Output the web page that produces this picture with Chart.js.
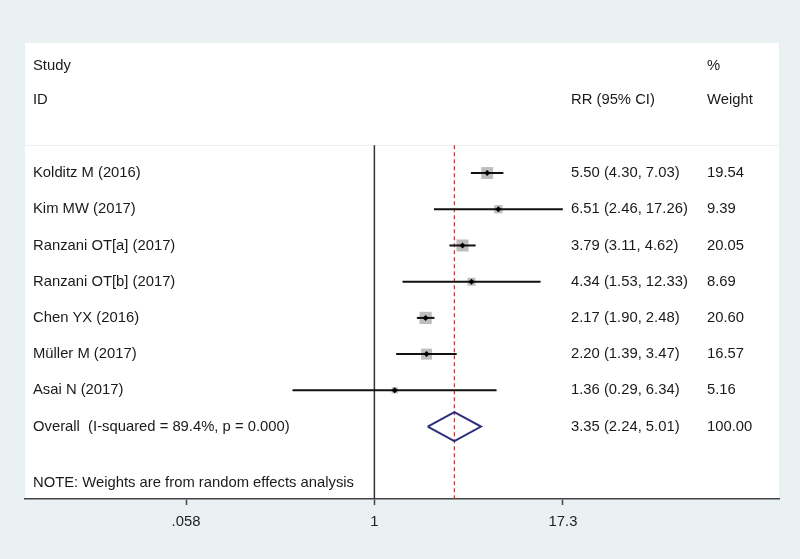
<!DOCTYPE html>
<html>
<head>
<meta charset="utf-8">
<script src="https://cdn.jsdelivr.net/npm/chart.js@4"></script>
<style>
  html, body { margin: 0; padding: 0; background: #eaf1f3; }
  #wrap { width: 800px; height: 559px; }
</style>
</head>
<body>
<div id="wrap"><canvas id="c" width="800" height="559"></canvas></div>
<script>
// ---- data ----
const studies = ['Kolditz M (2016)', 'Kim MW (2017)', 'Ranzani OT[a] (2017)', 'Ranzani OT[b] (2017)', 'Chen YX (2016)', 'Müller M (2017)', 'Asai N (2017)'];
const rr      = [5.50, 6.51, 3.79, 4.34, 2.17, 2.20, 1.36];
const lower   = [4.30, 2.46, 3.11, 1.53, 1.90, 1.39, 0.29];
const upper   = [7.03, 17.26, 4.62, 12.33, 2.48, 3.47, 6.34];
const weights = [19.54, 9.39, 20.05, 8.69, 20.60, 16.57, 5.16];
const overallLabel = 'Overall  (I-squared = 89.4%, p = 0.000)';
const overallEst = [3.35, 2.24, 5.01];   // RR, lower, upper
const overallWeight = 100.00;
const noteText = 'NOTE: Weights are from random effects analysis';
const xTickValues = [0.058, 1, 17.3];
const xTickLabels = ['.058', '1', '17.3'];

// ---- layout constants (rows on the y scale) ----
const Y_MIN = -3.59, Y_MAX = 9.0;
const ROW_HEAD1 = -2.96, ROW_HEAD2 = -2.02, ROW_TOPLINE = -0.77, ROW_OVERALL = 7, ROW_NOTE = 8.56;
const X_MIN = 0.005088, X_MAX = 453.0;
const FONT = '14.8px "Liberation Sans", Arial, sans-serif';
const TXT = '#1a1a1a';

const fmt = v => v.toFixed(2);

const datasets = [];
// central markers
datasets.push({
  data: rr.map((v, i) => ({x: v, y: i})),
  pointStyle: 'rectRot', pointRadius: 3, backgroundColor: '#000', borderWidth: 0, order: 0
});
// CI lines
rr.forEach((v, i) => {
  datasets.push({
    data: [{x: lower[i], y: i}, {x: upper[i], y: i}],
    showLine: true, borderColor: '#111', borderWidth: 2, pointRadius: 0, order: 1
  });
});
// weight boxes
datasets.push({
  data: rr.map((v, i) => ({x: v, y: i})),
  pointStyle: 'rect', pointRadius: weights.map(w => 1.9 * Math.sqrt(w)),
  backgroundColor: '#bdbdbd', borderWidth: 0, order: 2
});
// overall diamond
datasets.push({
  data: [
    {x: overallEst[1], y: ROW_OVERALL},
    {x: overallEst[0], y: ROW_OVERALL - 0.4},
    {x: overallEst[2], y: ROW_OVERALL},
    {x: overallEst[0], y: ROW_OVERALL + 0.4},
    {x: overallEst[1], y: ROW_OVERALL}
  ],
  showLine: true, borderColor: '#2d2f7e', borderWidth: 2, pointRadius: 0, order: 3, borderJoinStyle: 'miter'
});
// dashed overall line
datasets.push({
  data: [{x: overallEst[0], y: ROW_TOPLINE}, {x: overallEst[0], y: Y_MAX}],
  showLine: true, borderColor: '#b23a3a', borderWidth: 1.2, borderDash: [4, 3], pointRadius: 0, order: 4
});
// null line at 1
datasets.push({
  data: [{x: 1, y: ROW_TOPLINE}, {x: 1, y: Y_MAX}],
  showLine: true, borderColor: '#333', borderWidth: 1.5, pointRadius: 0, order: 5
});

const bgPlugin = {
  id: 'bg',
  beforeDraw(chart) {
    const {ctx, chartArea: a, scales: {y}} = chart;
    ctx.save();
    ctx.fillStyle = '#eaf1f3';
    ctx.fillRect(0, 0, chart.width, chart.height);
    ctx.fillStyle = '#ffffff';
    ctx.fillRect(a.left, a.top, a.right - a.left, a.bottom - a.top);
    const yy = Math.round(y.getPixelForValue(ROW_TOPLINE)) + 0.5;
    ctx.strokeStyle = '#efefef';
    ctx.lineWidth = 1;
    ctx.beginPath(); ctx.moveTo(a.left, yy); ctx.lineTo(a.right, yy); ctx.stroke();
    ctx.restore();
  }
};

const textPlugin = {
  id: 'texts',
  afterDatasetsDraw(chart) {
    const {ctx, scales: {y}} = chart;
    ctx.save();
    ctx.font = FONT;
    ctx.fillStyle = TXT;
    ctx.textBaseline = 'middle';
    ctx.textAlign = 'left';
    const colL = 33, colRR = 571, colW = 707;
    ctx.fillText('Study', colL, y.getPixelForValue(ROW_HEAD1));
    ctx.fillText('%', colW, y.getPixelForValue(ROW_HEAD1));
    ctx.fillText('ID', colL, y.getPixelForValue(ROW_HEAD2));
    ctx.fillText('RR (95% CI)', colRR, y.getPixelForValue(ROW_HEAD2));
    ctx.fillText('Weight', colW, y.getPixelForValue(ROW_HEAD2));
    studies.forEach((s, i) => {
      const py = y.getPixelForValue(i);
      ctx.fillText(s, colL, py);
      ctx.fillText(`${fmt(rr[i])} (${fmt(lower[i])}, ${fmt(upper[i])})`, colRR, py);
      ctx.fillText(fmt(weights[i]), colW, py);
    });
    const po = y.getPixelForValue(ROW_OVERALL);
    ctx.fillText(overallLabel, colL, po);
    ctx.fillText(`${fmt(overallEst[0])} (${fmt(overallEst[1])}, ${fmt(overallEst[2])})`, colRR, po);
    ctx.fillText(fmt(overallWeight), colW, po);
    ctx.fillText(noteText, colL, y.getPixelForValue(ROW_NOTE));
    ctx.restore();
  }
};

new Chart(document.getElementById('c'), {
  type: 'scatter',
  data: { datasets },
  options: {
    responsive: false,
    animation: false,
    events: [],
    layout: { padding: { left: 25, right: 21, top: 43, bottom: 0 } },
    plugins: { legend: { display: false }, tooltip: { enabled: false } },
    scales: {
      x: {
        type: 'logarithmic',
        min: X_MIN, max: X_MAX,
        afterBuildTicks(scale) { scale.ticks = xTickValues.map(v => ({value: v})); },
        afterFit(scale) { scale.height = 60; },
        ticks: {
          autoSkip: false, maxRotation: 0, padding: 8,
          color: '#222',
          font: { family: '"Liberation Sans", Arial, sans-serif', size: 14.8 },
          callback: (v) => { const k = xTickValues.indexOf(v); return k >= 0 ? xTickLabels[k] : ''; }
        },
        grid: { drawOnChartArea: false, drawTicks: true, tickLength: 6, color: '#444', tickWidth: 1.5 },
        border: { display: true, color: '#444', width: 1.5 }
      },
      y: {
        type: 'linear', reverse: true, min: Y_MIN, max: Y_MAX, display: false
      }
    }
  },
  plugins: [bgPlugin, textPlugin]
});
</script>
</body>
</html>
